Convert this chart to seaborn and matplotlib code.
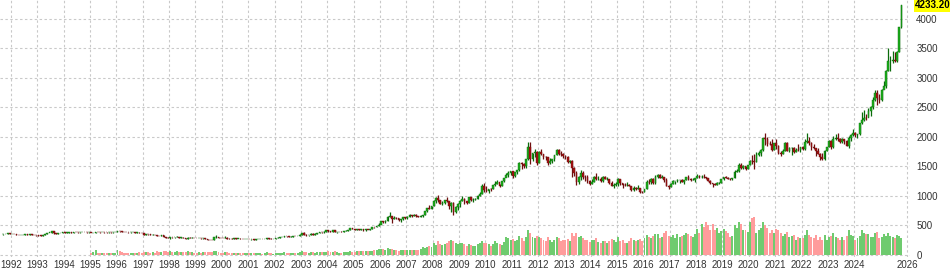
import matplotlib
matplotlib.use("Agg")
import matplotlib.pyplot as plt
import matplotlib.transforms as mtransforms
import numpy as np
import pandas as pd
import seaborn as sns

# ---------------- data (monthly gold, from Sep 1991) ----------------
start_year, start_month = 1991, 9
first_open = 348

closes = [
    354, 357, 366, 353,
    354, 353, 341, 337, 337, 343, 357, 340, 349, 339, 334, 333,
    330, 327, 337, 354, 378, 378, 401, 372, 355, 369, 371, 391,
    378, 381, 389, 376, 387, 385, 384, 385, 395, 389, 383, 383,
    375, 376, 392, 389, 385, 387, 383, 382, 384, 382, 387, 387,
    405, 400, 396, 392, 390, 382, 385, 387, 379, 379, 371, 369,
    345, 358, 349, 340, 345, 334, 326, 325, 332, 311, 296, 290,
    302, 297, 301, 310, 293, 296, 288, 273, 294, 292, 294, 288,
    287, 287, 280, 286, 268, 261, 255, 254, 299, 299, 292, 290,
    283, 293, 278, 275, 272, 288, 276, 277, 273, 264, 270, 274,
    265, 267, 258, 264, 267, 271, 265, 273, 293, 279, 275, 277,
    282, 296, 301, 308, 326, 318, 304, 312, 324, 317, 319, 347,
    368, 347, 334, 336, 361, 346, 354, 375, 388, 386, 398, 416,
    400, 397, 427, 388, 393, 395, 391, 408, 415, 429, 453, 438,
    422, 435, 427, 435, 417, 437, 429, 433, 473, 470, 495, 513,
    568, 556, 582, 644, 653, 613, 632, 623, 599, 604, 646, 632,
    650, 672, 663, 678, 659, 650, 665, 672, 743, 789, 783, 834,
    923, 971, 933, 871, 885, 930, 914, 833, 884, 730, 814, 869,
    919, 952, 916, 883, 975, 926, 939, 955, 996, 1040, 1175, 1096,
    1081, 1116, 1113, 1179, 1207, 1244, 1169, 1246, 1307, 1357, 1386, 1421,
    1333, 1411, 1439, 1556, 1536, 1500, 1628, 1825, 1620, 1722, 1746, 1566,
    1738, 1711, 1669, 1664, 1561, 1598, 1622, 1692, 1772, 1719, 1712, 1675,
    1663, 1578, 1598, 1469, 1393, 1234, 1314, 1396, 1327, 1324, 1253, 1202,
    1244, 1326, 1284, 1288, 1250, 1327, 1285, 1287, 1216, 1171, 1182, 1199,
    1283, 1213, 1183, 1182, 1190, 1172, 1095, 1133, 1115, 1142, 1064, 1061,
    1118, 1238, 1233, 1293, 1215, 1321, 1351, 1309, 1316, 1273, 1174, 1151,
    1211, 1249, 1249, 1268, 1268, 1242, 1269, 1322, 1282, 1271, 1275, 1303,
    1345, 1318, 1325, 1316, 1299, 1253, 1224, 1202, 1192, 1215, 1223, 1282,
    1321, 1313, 1292, 1284, 1305, 1409, 1427, 1520, 1472, 1513, 1464, 1517,
    1587, 1585, 1577, 1694, 1730, 1781, 1975, 1967, 1886, 1879, 1776, 1898,
    1847, 1734, 1707, 1769, 1906, 1770, 1814, 1814, 1743, 1783, 1774, 1829,
    1797, 1909, 1937, 1897, 1838, 1807, 1766, 1711, 1661, 1633, 1768, 1824,
    1928, 1827, 1969, 1990, 1962, 1919, 1965, 1940, 1849, 1984, 2036, 2063,
    2040, 2044, 2230, 2286, 2327, 2326, 2447, 2503, 2635, 2744, 2657, 2625,
    2798, 2858, 3124, 3288, 3289, 3303, 3290, 3448, 3858, 4233.2,
]

highs = [
    357, 362, 370, 368,
    360, 360, 354, 342, 340, 345, 362, 358, 350, 350, 341, 337,
    334, 333, 338, 358, 381, 381, 406, 405, 375, 372, 378, 392,
    396, 385, 391, 390, 389, 395, 389, 387, 397, 396, 390, 386,
    381, 379, 396, 395, 391, 390, 389, 388, 386, 386, 389, 389,
    408, 415, 405, 398, 394, 393, 391, 390, 387, 385, 385, 374,
    369, 364, 357, 348, 348, 344, 334, 328, 333, 332, 312, 298,
    307, 303, 302, 314, 311, 298, 298, 289, 297, 300, 298, 296,
    292, 291, 289, 292, 290, 268, 262, 258, 300, 338, 302, 294,
    293, 314, 298, 287, 281, 291, 289, 279, 280, 274, 270, 276,
    275, 269, 268, 266, 277, 274, 270, 277, 294, 293, 280, 279,
    283, 300, 303, 310, 327, 329, 322, 315, 325, 323, 321, 350,
    370, 388, 352, 341, 372, 371, 365, 375, 390, 392, 400, 417,
    427, 415, 430, 428, 394, 398, 403, 413, 418, 432, 455, 457,
    439, 439, 445, 437, 435, 441, 431, 447, 474, 477, 497, 541,
    575, 572, 586, 654, 730, 631, 666, 652, 625, 605, 649, 650,
    656, 690, 671, 694, 690, 669, 683, 677, 745, 797, 845, 838,
    932, 975, 1011, 932, 913, 938, 988, 915, 905, 905, 828, 879,
    935, 1006, 961, 920, 981, 988, 961, 960, 1024, 1070, 1195, 1227,
    1162, 1126, 1134, 1180, 1249, 1265, 1211, 1249, 1307, 1388, 1425, 1431,
    1424, 1413, 1447, 1575, 1577, 1553, 1633, 1912, 1920, 1725, 1802, 1763,
    1764, 1791, 1720, 1677, 1667, 1640, 1628, 1693, 1790, 1795, 1755, 1723,
    1694, 1681, 1617, 1605, 1488, 1416, 1347, 1433, 1423, 1361, 1362, 1268,
    1280, 1332, 1392, 1331, 1315, 1332, 1345, 1322, 1287, 1255, 1221, 1239,
    1307, 1286, 1224, 1224, 1232, 1205, 1177, 1170, 1157, 1191, 1143, 1088,
    1127, 1263, 1283, 1303, 1305, 1362, 1375, 1367, 1352, 1317, 1306, 1183,
    1220, 1264, 1261, 1295, 1270, 1296, 1270, 1326, 1357, 1306, 1299, 1306,
    1366, 1361, 1356, 1365, 1318, 1309, 1264, 1224, 1214, 1243, 1237, 1284,
    1326, 1347, 1324, 1302, 1306, 1439, 1453, 1555, 1557, 1518, 1515, 1525,
    1611, 1689, 1704, 1747, 1765, 1789, 1984, 2075, 1992, 1933, 1965, 1906,
    1959, 1871, 1755, 1798, 1913, 1916, 1832, 1834, 1834, 1814, 1877, 1831,
    1853, 1974, 2070, 1998, 1910, 1879, 1790, 1808, 1735, 1730, 1786, 1833,
    1949, 1945, 2009, 2048, 2063, 1984, 1987, 1949, 1953, 2009, 2052, 2135,
    2088, 2053, 2236, 2431, 2450, 2388, 2483, 2531, 2685, 2790, 2801, 2726,
    2817, 2956, 3128, 3500, 3365, 3452, 3439, 3454, 3871, 4240,
]

lows = [
    347, 354, 355, 351,
    351, 352, 340, 336, 334, 337, 342, 339, 338, 338, 331, 330,
    326, 326, 326, 336, 354, 366, 376, 349, 350, 354, 367, 370,
    373, 374, 380, 370, 374, 382, 376, 377, 384, 388, 381, 376,
    372, 372, 373, 385, 381, 383, 381, 379, 380, 380, 381, 383,
    387, 397, 392, 390, 388, 380, 381, 384, 378, 377, 368, 367,
    341, 343, 347, 336, 338, 333, 318, 320, 320, 308, 294, 283,
    279, 289, 294, 298, 292, 287, 285, 272, 273, 287, 289, 287,
    285, 283, 278, 279, 267, 256, 252, 253, 255, 291, 289, 281,
    282, 282, 276, 273, 270, 272, 274, 272, 268, 263, 263, 265,
    263, 256, 256, 255, 263, 264, 265, 265, 272, 278, 270, 272,
    277, 281, 290, 300, 307, 312, 302, 303, 313, 314, 316, 318,
    345, 345, 327, 325, 337, 341, 342, 350, 373, 370, 379, 396,
    397, 394, 393, 388, 375, 384, 388, 390, 401, 413, 426, 433,
    419, 422, 425, 422, 414, 413, 416, 429, 433, 460, 469, 488,
    517, 540, 537, 581, 636, 543, 607, 609, 573, 560, 601, 615,
    602, 647, 637, 666, 650, 642, 651, 643, 670, 724, 780, 780,
    835, 883, 906, 863, 846, 863, 903, 774, 736, 681, 706, 758,
    813, 910, 867, 865, 884, 913, 905, 934, 948, 1001, 1040, 1075,
    1075, 1045, 1087, 1116, 1164, 1204, 1157, 1176, 1242, 1314, 1330, 1360,
    1309, 1328, 1380, 1421, 1462, 1478, 1478, 1602, 1534, 1600, 1667, 1523,
    1562, 1695, 1627, 1611, 1527, 1548, 1564, 1598, 1688, 1701, 1672, 1636,
    1627, 1555, 1564, 1321, 1338, 1180, 1208, 1274, 1292, 1251, 1227, 1182,
    1203, 1238, 1277, 1268, 1240, 1241, 1281, 1273, 1206, 1161, 1131, 1167,
    1168, 1191, 1142, 1175, 1170, 1162, 1077, 1080, 1098, 1113, 1052, 1046,
    1062, 1111, 1209, 1208, 1200, 1207, 1310, 1302, 1302, 1241, 1171, 1123,
    1146, 1206, 1195, 1241, 1215, 1236, 1205, 1268, 1275, 1261, 1264, 1236,
    1303, 1308, 1303, 1301, 1281, 1247, 1211, 1160, 1180, 1183, 1196, 1221,
    1276, 1312, 1281, 1266, 1268, 1306, 1400, 1400, 1459, 1459, 1445, 1459,
    1517, 1547, 1451, 1568, 1670, 1670, 1757, 1863, 1849, 1860, 1765, 1776,
    1802, 1717, 1677, 1704, 1764, 1761, 1750, 1688, 1721, 1746, 1759, 1753,
    1780, 1780, 1895, 1872, 1787, 1805, 1681, 1710, 1615, 1618, 1616, 1765,
    1824, 1804, 1810, 1949, 1932, 1893, 1902, 1885, 1846, 1811, 1931, 2010,
    2002, 1984, 2039, 2228, 2277, 2286, 2353, 2364, 2471, 2603, 2537, 2583,
    2615, 2833, 2833, 3120, 3121, 3248, 3268, 3268, 3436, 3840,
]

# volume (drawn on the price scale), monthly from Jan 1995
volume_start_year, volume_start_month = 1995, 1
volumes = [
    30, 45, 80, 40, 35, 30, 35, 40, 30, 35, 30, 40,
    85, 60, 45, 40, 35, 30, 35, 30, 35, 40, 45, 40,
    55, 50, 45, 40, 45, 40, 60, 50, 55, 70, 60, 55,
    70, 50, 45, 60, 55, 50, 45, 55, 60, 50, 45, 40,
    40, 45, 40, 45, 55, 50, 55, 50, 70, 65, 50, 40,
    40, 55, 45, 40, 35, 40, 35, 30, 35, 30, 30, 35,
    35, 30, 30, 30, 35, 30, 25, 30, 45, 35, 30, 25,
    30, 40, 35, 35, 45, 40, 40, 35, 40, 35, 35, 50,
    60, 55, 50, 40, 55, 45, 40, 45, 55, 50, 45, 55,
    60, 50, 55, 65, 45, 40, 40, 45, 50, 55, 60, 50,
    55, 60, 65, 60, 70, 65, 60, 65, 75, 80, 85, 100,
    110, 95, 90, 120, 110, 100, 85, 80, 75, 85, 90, 80,
    85, 90, 80, 85, 90, 80, 95, 130, 120, 135, 150, 130,
    200, 170, 230, 180, 170, 190, 200, 230, 260, 240, 200, 180,
    200, 210, 190, 160, 180, 170, 160, 150, 190, 210, 240, 200,
    210, 180, 160, 190, 240, 200, 180, 170, 220, 300, 280, 250,
    270, 230, 260, 320, 290, 230, 300, 420, 380, 300, 290, 330,
    300, 280, 260, 230, 300, 250, 220, 250, 300, 280, 240, 260,
    250, 270, 230, 380, 330, 380, 300, 330, 280, 260, 250, 220,
    250, 260, 280, 220, 200, 240, 230, 200, 240, 270, 260, 220,
    300, 240, 250, 200, 210, 230, 280, 260, 230, 250, 270, 230,
    280, 340, 300, 290, 330, 360, 350, 280, 300, 380, 410, 330,
    300, 340, 280, 350, 300, 330, 340, 380, 360, 330, 310, 360,
    440, 380, 520, 480, 560, 500, 430, 520, 420, 460, 380, 400,
    440, 400, 380, 300, 320, 500, 460, 560, 520, 430, 420, 390,
    560, 620, 640, 380, 420, 460, 560, 500, 460, 380, 420, 370,
    440, 430, 380, 320, 360, 390, 300, 330, 340, 260, 300, 280,
    290, 340, 420, 340, 300, 280, 340, 260, 300, 260, 340, 260,
    300, 320, 380, 300, 280, 260, 300, 250, 320, 420, 340, 330,
    260, 280, 330, 420, 380, 350, 360, 300, 310, 370, 390, 280,
    300, 360, 330, 380, 330, 300, 280, 340, 320, 280,
]

year_ticks = list(range(1992, 2025)) + [2026]
price_ticks = [0, 500, 1000, 1500, 2000, 2500, 3000, 3500, 4000]
last_price_label = "4233.20"

# ---------------- build frame ----------------
n = min(len(closes), len(highs), len(lows))
opens = [first_open] + closes[:n - 1]
t = [start_year + (start_month - 1 + i + 0.5) / 12.0 for i in range(n)]
df = pd.DataFrame({"t": t, "open": opens, "high": highs[:n],
                   "low": lows[:n], "close": closes[:n]})
df["up"] = df["close"] >= df["open"]

voff = (volume_start_year - start_year) * 12 + (volume_start_month - start_month)
nv = min(len(volumes), n - voff)
vdf = pd.DataFrame({"t": df["t"].iloc[voff:voff + nv].values,
                    "vol": volumes[:nv],
                    "up": df["up"].iloc[voff:voff + nv].values})

# ---------------- plot ----------------
sns.set_theme(style="white")
plt.rcParams["font.family"] = ["Liberation Sans", "DejaVu Sans"]

W, H = 950, 270
fig = plt.figure(figsize=(W / 100, H / 100), dpi=100)
ax = fig.add_axes([0, 13 / H, 910 / W, 257 / H])

month = 1 / 12.0
# volume bars
vcol = np.where(vdf["up"], "#6fcb6f", "#ff9c9c")
ax.bar(vdf["t"], vdf["vol"], width=0.9 * month, color=vcol, linewidth=0, zorder=1)

# candles
up = df[df["up"]]
dn = df[~df["up"]]
ax.vlines(up["t"], up["low"], up["high"], color="#0b6b0b", linewidth=0.9, zorder=2)
ax.vlines(dn["t"], dn["low"], dn["high"], color="#6e0f0f", linewidth=0.9, zorder=2)
ax.bar(up["t"], (up["close"] - up["open"]).clip(lower=4), bottom=up["open"],
       width=0.8 * month, color="#1cb01c", edgecolor="#0b6b0b", linewidth=0.3, zorder=3)
ax.bar(dn["t"], (dn["open"] - dn["close"]).clip(lower=4), bottom=dn["close"],
       width=0.8 * month, color="#a50f0f", edgecolor="#6e0f0f", linewidth=0.3, zorder=3)

# axes & grid
px_per_year = 26.35
x0 = 1992 - 11 / px_per_year
ax.set_xlim(x0, x0 + 910 / px_per_year)
ax.set_ylim(-34, 4322)
ax.set_xticks(year_ticks)
ax.set_xticklabels([str(y) for y in year_ticks])
ax.set_yticks(price_ticks)
ax.set_yticklabels([str(p) for p in price_ticks])
ax.yaxis.tick_right()
ax.tick_params(axis="both", length=0, labelsize=7, colors="#333333")
ax.tick_params(axis="x", pad=2.5)
ax.tick_params(axis="y", pad=4.5)
for lab in ax.get_yticklabels():
    lab.set_horizontalalignment("left")
ax.grid(True, color="#c9c9c9", linestyle=(0, (2.2, 2.2)), linewidth=0.8)
ax.set_axisbelow(True)
for s in ax.spines.values():
    s.set_visible(False)

# last price marker
trans = mtransforms.blended_transform_factory(ax.transAxes, ax.transData)
ax.text(1.0 + 5 / 910, closes[-1], last_price_label, transform=trans,
        ha="left", va="center", fontsize=7, fontweight="bold", color="#000000",
        bbox=dict(boxstyle="square,pad=0.15", facecolor="#ffff00", edgecolor="none"),
        clip_on=False)

fig.savefig("out.png", dpi=100, facecolor="white")
